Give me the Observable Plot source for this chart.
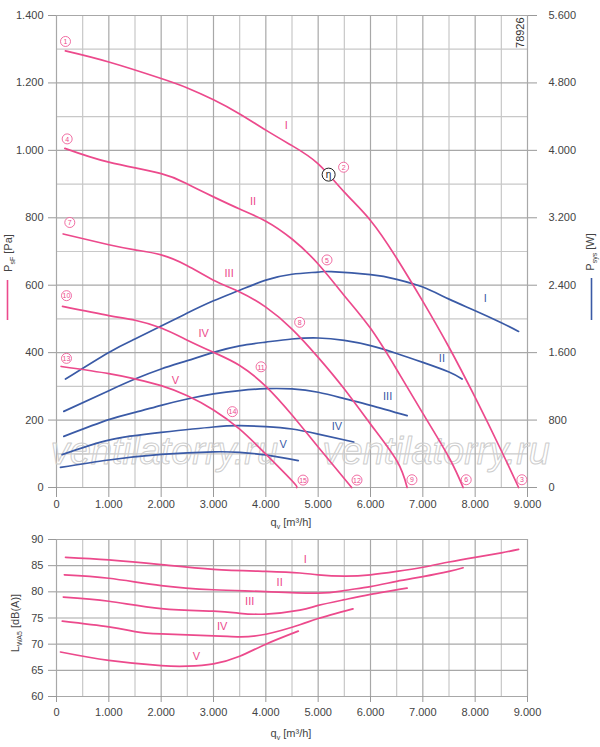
<!DOCTYPE html>
<html><head><meta charset="utf-8">
<script src="https://cdn.jsdelivr.net/npm/d3@7"></script>
<script src="https://cdn.jsdelivr.net/npm/@observablehq/plot@0.6"></script>
<style>
body{margin:0;background:#fff;}
#chart{width:600px;}
#chart svg{display:block;}
</style></head><body><div id="chart"></div>
<script>
// ---------- data ----------
const qTicks = [0,1000,2000,3000,4000,5000,6000,7000,8000,9000];
const qMinor = [500,1500,2500,3500,4500,5500,6500,7500,8500];
const paTicks = [0,200,400,600,800,1000,1200,1400];
const paMinor = [100,300,500,700,900,1100,1300];
const dbTicks = [60,65,70,75,80,85,90];

// static pressure psF [Pa] vs qv [m3/h]
const psI = [[170,1295],[1000,1262],[2000,1213],[2500,1185],[3000,1150],[3500,1108],[4000,1060],[4500,1014],[5000,960],[5500,876],[6000,792],[6500,680],[7000,552],[7500,416],[8000,267],[8500,109],[8830,0]];
const psII = [[160,1006],[1000,965],[2000,931],[2500,900],[3000,862],[3500,826],[4000,790],[4500,737],[5000,663],[5500,569],[6000,472],[6500,350],[7000,220],[7500,89],[7770,0]];
const psIII = [[128,752],[1000,720],[1500,705],[2000,690],[2500,658],[3000,615],[3500,580],[4000,535],[4500,470],[5000,386],[5500,292],[6000,188],[6500,80],[6700,0]];
const psIV = [[115,537],[1000,510],[1500,496],[2000,473],[2500,437],[3000,401],[3500,362],[4000,300],[4500,215],[5000,120],[5640,0]];
const psV = [[89,359],[1000,338],[1500,322],[2000,302],[2500,272],[3000,230],[3500,173],[4000,99],[4500,20],[4590,0]];

// system power Psys [W]
const pwI = [[172,1287],[1000,1603],[1500,1762],[2000,1915],[2500,2070],[3000,2215],[3500,2340],[4000,2460],[4500,2530],[5000,2556],[5250,2561],[6000,2525],[6500,2470],[7000,2378],[7500,2235],[8000,2098],[8500,1955],[8830,1852]];
const pwII = [[140,903],[1000,1149],[1500,1287],[2000,1406],[2500,1505],[3000,1603],[3500,1680],[4000,1725],[4500,1762],[5000,1774],[5500,1745],[6000,1683],[6500,1590],[7000,1484],[7500,1370],[7750,1287]];
const pwIII = [[140,607],[1000,805],[1500,891],[2000,975],[2500,1050],[3000,1110],[3500,1150],[4000,1172],[4500,1169],[5000,1130],[5500,1055],[6000,975],[6700,852]];
const pwIV = [[108,390],[1000,563],[2000,654],[3000,718],[3500,733],[4000,722],[4500,694],[5000,634],[5680,540]];
const pwV = [[76,238],[1000,326],[2000,393],[3000,423],[3500,417],[4000,386],[4620,318]];

// sound power LWA5 [dB(A)]
const lwI = [[172,86.6],[1000,86.1],[2000,85.2],[3000,84.3],[4000,83.9],[4650,83.6],[5000,83.25],[5500,83.0],[6000,83.25],[6500,83.9],[7000,84.7],[7500,85.7],[8000,86.6],[8500,87.45],[8830,88.1]];
const lwII = [[150,83.25],[1000,82.6],[2000,81.2],[3000,80.4],[4000,80.05],[5000,79.75],[5500,80.25],[6000,81.0],[6500,82.0],[7000,82.9],[7500,83.9],[7770,84.6]];
const lwIII = [[130,79.0],[1000,78.2],[2000,76.8],[3000,76.3],[3500,75.9],[4000,75.75],[4650,76.5],[5000,77.4],[5500,78.5],[6000,79.5],[6700,80.7]];
const lwIV = [[110,74.4],[1000,73.3],[1500,72.4],[2000,71.95],[3000,71.6],[3500,71.4],[4000,71.9],[4650,73.7],[5000,74.9],[5665,76.75]];
const lwV = [[76,68.5],[1000,66.9],[2000,65.9],[2500,65.8],[3000,66.25],[3500,67.7],[4000,70.0],[4620,72.5]];

const roman = ["I","II","III","IV","V"];
// curve labels (anchor in data units)
const psLabelQ = [4390,3756,3298,2813,2272];
const psLabelPa = [1075,848,636,458,317];
const pwLabelQ = [8192,7365,6327,5360,4329];
const pwLabelW = [2244,1532,1080,724,516];
const lwLabelQ = [4755,4264,3691,3164,2673];
const lwLabelDb = [86.1,81.8,78.15,73.4,67.7];

// numbered operating points
const markerNo = ["1","2","3","4","5","6","7","8","9","10","11","12","13","14","15"];
const markerQ  = [172,5486,8893,204,5169,7829,254,4646,6792,191,3909,5742,191,3361,4711];
const markerPa = [1323,950,23,1034,675,23,786,490,23,569,358,22,383,225,22];
const etaQ = [5200], etaPa = [928];

const codeText = ["78926"];
const watermark = ["ventilatorry.ru","ventilatorry.ru"];
const watermarkQ = [2062,7257], watermarkPa = [105,105];

// ---------- helpers ----------
const PINK = "#ec4a8c", BLUE = "#3a5aa6";
const GRID = "#a8a8a8", GRID2 = "#c8c8c8";
const FONT = "'Liberation Sans', Arial, sans-serif";
const CURVE = "natural";
const fmt = d3.formatLocale({decimal:",", thousands:".", grouping:[3], currency:["",""]}).format(",");
const rows = (list, scale=1) => list.flatMap((arr,i) => arr.map(([q,v]) => ({q, v: v*scale, k: roman[i]})));

const psRows = rows([psI,psII,psIII,psIV,psV]);
const pwRows = rows([pwI,pwII,pwIII,pwIV,pwV], 0.25);
const lwRows = rows([lwI,lwII,lwIII,lwIV,lwV]);
const markers = markerNo.map((t,i)=>({t, q:markerQ[i], v:markerPa[i]}));
const labelsPs = roman.map((t,i)=>({t,q:psLabelQ[i],v:psLabelPa[i]}));
const labelsPw = roman.map((t,i)=>({t,q:pwLabelQ[i],v:pwLabelW[i]/4}));
const labelsLw = roman.map((t,i)=>({t,q:lwLabelQ[i],v:lwLabelDb[i]}));
const wm = watermark.map((t,i)=>({t,q:watermarkQ[i],v:watermarkPa[i]}));
const etaRows = etaQ.map((q,i)=>({q, v: etaPa[i], t: "η"}));
const codeRows = codeText.map(t => ({t, q: 8861, v: 1349}));

const axisStyle = {fontSize: 11, fill: "#444", stroke: "#999"};

const topChart = Plot.plot({
  width: 600, height: 530,
  marginLeft: 56, marginRight: 73, marginTop: 15, marginBottom: 43,
  style: {fontFamily: FONT, color: "#444", background: "white"},
  x: {domain: [0, 9000]},
  y: {domain: [0, 1400]},
  marks: [
    Plot.ruleX(qMinor, {stroke: GRID2, strokeWidth: 1.2}),
    Plot.ruleY(paMinor, {stroke: GRID2, strokeWidth: 1.2}),
    Plot.ruleX(qTicks, {stroke: GRID, strokeWidth: 1.2}),
    Plot.ruleY(paTicks, {stroke: GRID, strokeWidth: 1.2}),
    Plot.axisX(qTicks, {anchor: "bottom", tickSize: 10, tickPadding: 3, tickFormat: fmt, label: null, ...axisStyle}),
    Plot.axisY(paTicks, {anchor: "left", tickSize: 8, tickPadding: 5, tickFormat: fmt, label: null, ...axisStyle}),
    Plot.axisY(paTicks, {anchor: "right", tickSize: 9, tickPadding: 12, tickFormat: d => fmt(d*4), label: null, ...axisStyle}),
    Plot.text(wm, {x: "q", y: "v", text: "t", fontSize: 38, fontStyle: "italic", fill: "none", stroke: "#cdcdcd", strokeWidth: 1}),
    Plot.line(pwRows, {x: "q", y: "v", z: "k", stroke: BLUE, strokeWidth: 1.7, curve: CURVE}),
    Plot.line(psRows, {x: "q", y: "v", z: "k", stroke: PINK, strokeWidth: 1.7, curve: CURVE}),
    Plot.text(labelsPs, {x: "q", y: "v", text: "t", fill: PINK, fontSize: 11}),
    Plot.text(labelsPw, {x: "q", y: "v", text: "t", fill: BLUE, fontSize: 11}),
    Plot.dot(markers, {x: "q", y: "v", r: 5, fill: "white", stroke: PINK, strokeWidth: 0.8}),
    Plot.text(markers, {x: "q", y: "v", text: "t", fill: PINK, fontSize: 7, dy: 0.5}),
    Plot.dot(etaRows, {x: "q", y: "v", r: 6.5, fill: "white", stroke: "#222", strokeWidth: 1}),
    Plot.text(etaRows, {x: "q", y: "v", text: "t", fill: "#222", fontSize: 10}),
    Plot.text(codeRows, {x: "q", y: "v", text: "t", rotate: -90, fontSize: 11, fill: "#333"})
  ]
});

const bottomChart = Plot.plot({
  width: 600, height: 217,
  marginLeft: 56, marginRight: 73, marginTop: 9, marginBottom: 51,
  style: {fontFamily: FONT, color: "#444", background: "white"},
  x: {domain: [0, 9000]},
  y: {domain: [60, 90]},
  marks: [
    Plot.ruleX(qMinor, {stroke: GRID2, strokeWidth: 1.2}),
    Plot.ruleX(qTicks, {stroke: GRID, strokeWidth: 1.2}),
    Plot.ruleY(dbTicks, {stroke: GRID, strokeWidth: 1.2}),
    Plot.axisX(qTicks, {anchor: "bottom", tickSize: 6, tickPadding: 6, tickFormat: fmt, label: null, ...axisStyle}),
    Plot.axisY(dbTicks, {anchor: "left", tickSize: 8, tickPadding: 5, label: null, ...axisStyle}),
    Plot.line(lwRows, {x: "q", y: "v", z: "k", stroke: PINK, strokeWidth: 1.7, curve: CURVE}),
    Plot.text(labelsLw, {x: "q", y: "v", text: "t", fill: PINK, fontSize: 11})
  ]
});

// axis titles with subscripts
function addTitle(svg, x, y, rot, parts) {
  const t = d3.select(svg).append("text")
    .attr("transform", `translate(${x},${y})` + (rot ? ` rotate(${rot})` : ""))
    .attr("text-anchor", "middle").attr("font-size", 11).attr("fill", "#444")
    .attr("font-family", FONT);
  let shift = 0;
  parts.forEach(([s, sub]) => {
    const ts = t.append("tspan").text(s);
    if (sub) { ts.attr("dy", 2.5).attr("font-size", 7); shift = 2.5; }
    else if (shift) { ts.attr("dy", -shift); shift = 0; }
  });
}
function addSwatch(svg, x, y1, y2, color) {
  d3.select(svg).append("line").attr("x1", x).attr("x2", x).attr("y1", y1).attr("y2", y2)
    .attr("stroke", color).attr("stroke-width", 1.6);
}
addTitle(topChart, 12, 253, -90, [["P"],["sF",1],[" [Pa]"]]);
addSwatch(topChart, 7.5, 280, 320, PINK);
addTitle(topChart, 594, 252, -90, [["P"],["sys",1],[" [W]"]]);
addSwatch(topChart, 591.5, 278, 320, BLUE);
addTitle(topChart, 291, 526, 0, [["q"],["v",1],[" [m³/h]"]]);
addTitle(bottomChart, 19, 93, -90, [["L"],["WA5",1],[" [dB(A)]"]]);
addTitle(bottomChart, 291, 207, 0, [["q"],["v",1],[" [m³/h]"]]);

document.getElementById("chart").append(topChart, bottomChart);
</script></body></html>
